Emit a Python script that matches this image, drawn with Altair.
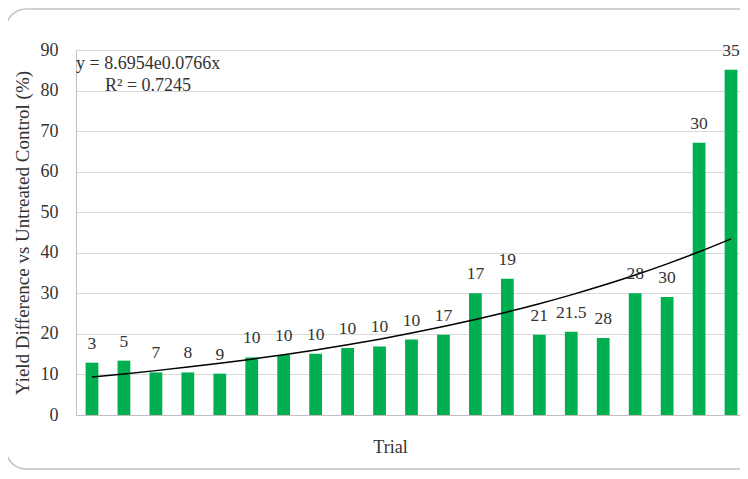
import altair as alt
import pandas as pd

trials = list(range(1, 22))
yield_diff = [12.9, 13.4, 10.5, 10.5, 10.2, 14.2, 14.8, 15.1, 16.5, 16.9,
              18.6, 19.8, 30.0, 33.6, 19.8, 20.5, 19.0, 30.0, 29.1, 67.1, 85.1]
bar_labels = ["3", "5", "7", "8", "9", "10", "10", "10", "10", "10",
              "10", "17", "17", "19", "21", "21.5", "28", "28", "30", "30", "35"]

trend_a = 8.6954
trend_b = 0.0766
eq_lines = ["y = 8.6954e0.0766x", "R\u00b2 = 0.7245"]

df = pd.DataFrame({"trial": trials, "value": yield_diff, "label": bar_labels})

FONT = "Liberation Serif"
TXT = "#333333"

x_enc = alt.X("trial:O", title="Trial",
              scale=alt.Scale(paddingInner=0.6, paddingOuter=0.3),
              axis=alt.Axis(labels=False, ticks=False, domainColor="#bfbfbf",
                            titleFont=FONT, titleFontSize=18, titleFontWeight="normal",
                            titleColor=TXT, titleX=314, titleY=37,
                            titleBaseline="alphabetic", titleAlign="center"))
y_enc = alt.Y("value:Q", title="Yield Difference vs Untreated Control (%)",
              scale=alt.Scale(domain=[0, 90], nice=False),
              axis=alt.Axis(values=list(range(0, 91, 10)), ticks=False,
                            domainColor="#bfbfbf", gridColor="#d9d9d9",
                            labelFont=FONT, labelFontSize=18, labelColor=TXT,
                            labelPadding=18, titleFont=FONT, titleFontSize=19,
                            titleFontWeight="normal", titleColor=TXT, titlePadding=8))

base = alt.Chart(df)

bars = base.mark_bar(color="#00b050").encode(x=x_enc, y=y_enc)

labels = base.mark_text(font=FONT, fontSize=17.5, color=TXT, baseline="alphabetic",
                        dy=-14).encode(x="trial:O", y="value:Q", text="label:N")

trend = base.transform_calculate(
    fit=f"{trend_a} * exp({trend_b} * datum.trial)"
).mark_line(color="#000000", strokeWidth=1.5, interpolate="monotone").encode(
    x="trial:O", y="fit:Q")

eq_df = pd.DataFrame({"line": eq_lines, "row": [0, 1]})
eq1 = alt.Chart(eq_df[eq_df.row == 0]).mark_text(
    font=FONT, fontSize=18, color=TXT, align="left", baseline="alphabetic"
).encode(x=alt.value(0), y=alt.value(19), text="line:N")
eq2 = alt.Chart(eq_df[eq_df.row == 1]).mark_text(
    font=FONT, fontSize=18, color=TXT, align="left", baseline="alphabetic"
).encode(x=alt.value(29), y=alt.value(41), text="line:N")

frame = alt.Chart(pd.DataFrame({"f": [0]})).mark_rect(
    fill=None, stroke="#c4c4c4", strokeWidth=1.5, cornerRadius=20, clip=False
).encode(x=alt.value(-70), x2=alt.value(720), y=alt.value(-41), y2=alt.value(419))

chart = alt.layer(frame, bars, trend, labels, eq1, eq2).properties(
    width=671, height=365,
    autosize=alt.AutoSizeParams(type="none"),
    padding={"left": 68, "top": 42, "right": -7, "bottom": 56},
).configure_view(stroke=None).configure_axis(gridWidth=1)

chart.save("out.html", embed_options={"renderer": "svg", "actions": False})
